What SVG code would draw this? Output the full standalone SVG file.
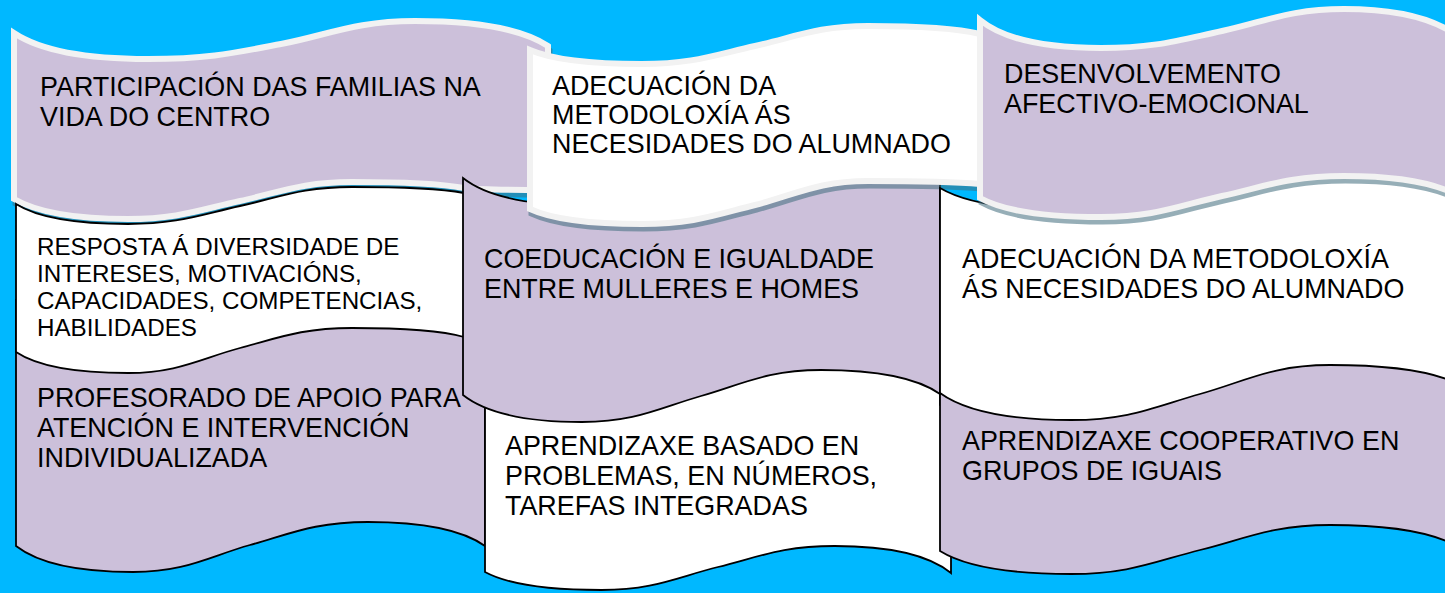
<svg xmlns="http://www.w3.org/2000/svg" xmlns:xlink="http://www.w3.org/1999/xlink" width="1445" height="593" viewBox="0 0 1445 593">
<style>
.bg{fill:#00B8FF}
.tp{fill:#CCC0DA;stroke:#F2F2F2;stroke-width:6}
.tw{fill:#FFFFFF;stroke:#F2F2F2;stroke-width:6}
.sh{fill:#416D7E;stroke:#416D7E;stroke-width:6}
.bp{fill:#CCC0DA;stroke:#000;stroke-width:1.8}
.bw{fill:#FFFFFF;stroke:#000;stroke-width:1.8}
text{font-family:"Liberation Sans",Arial,sans-serif;font-size:26.9px;fill:#000}
.sm{font-size:24.2px}
</style>
<defs>
<path id="pA" d="M14,33 C41,51 88,59 148,59 C208,59 234,53 281,44 C328,35 355,21 415,21 C475,21 521,28 548,46 L548,190 C520,190 480,190 464,188 C442,184 402,182 352,182 C302,182 279,192.5 240,201 C201,209.5 178,219 128,219 C78,219 38,213 14,199 Z"/>
<path id="pB" d="M530,50 C552.5,59.8 591.4,64 642,64 C692.6,64 715.6,54.7 755,46 C794.4,37.3 817.4,26 868,26 C918.6,26 957.5,28.4 980,34 L980,184 C957.5,181.9 918.6,181 868,181 C817.4,181 794.4,195.1 755,205 C715.6,214.9 692.6,224 642,224 C591.4,224 552.5,219.5 530,209 Z"/>
<path id="pC" d="M980,20 C1004,39.6 1046.4,48 1101,48 C1155.6,48 1179.6,40 1222,31 C1264.4,22 1289.4,9 1344,9 C1398.6,9 1441,20 1465,42 L1465,200 C1441,183.2 1398.6,176 1344,176 C1289.4,176 1264.4,186.6 1222,196 C1179.6,205.4 1155.6,217 1101,217 C1046.4,217 1004,211.3 980,198 Z"/>
</defs>
<rect class="bg" x="0" y="0" width="1445" height="593"/>

<g id="node-G">
<path class="bp" d="M16,300 L485,300 L485,546 C461.5,529.2 420.8,522 368,522 C315.2,522 291,533.5 250,545 C209,556.5 185.8,572 133,572 C80.2,572 39.5,564.2 16,546 Z"/>
<text x="37" y="407">PROFESORADO DE APOIO PARA</text>
<text x="37" y="437">ATENCIÓN E INTERVENCIÓN</text>
<text x="37" y="467">INDIVIDUALIZADA</text>
</g>

<g id="node-A">
<g opacity="0.55"><use xlink:href="#pA" href="#pA" class="sh" transform="translate(1.5,4.5)"/></g>
<use xlink:href="#pA" href="#pA" class="tp"/>
<text x="40" y="96">PARTICIPACIÓN DAS FAMILIAS NA</text>
<text x="40" y="126">VIDA DO CENTRO</text>
</g>

<g id="node-D">
<path class="bw" d="M16,204 C38,218 78,224 128,224 C178,224 201,214.5 240,206 C279,197.5 302,187 352,187 C402,187 442,189 464,193 L464,337 C442,330.7 402,328 352,328 C302,328 279,337.6 240,348 C201,358.4 178,373 128,373 C78,373 38,366.7 16,352 Z"/>
<text class="sm" x="37" y="255">RESPOSTA Á DIVERSIDADE DE</text>
<text class="sm" x="37" y="282">INTERESES, MOTIVACIÓNS,</text>
<text class="sm" x="37" y="309">CAPACIDADES, COMPETENCIAS,</text>
<text class="sm" x="37" y="336">HABILIDADES</text>
</g>

<g id="node-H">
<path class="bw" d="M485,350 L951,350 L951,573 C927.7,554.1 886.9,546 834.5,546 C782.1,546 758.8,556.9 718,567 C677.2,577.1 653.9,590 601.5,590 C549.1,590 508.3,584.6 485,572 Z"/>
<text x="505" y="455">APRENDIZAXE BASADO EN</text>
<text x="505" y="485">PROBLEMAS, EN NÚMEROS,</text>
<text x="505" y="515">TAREFAS INTEGRADAS</text>
</g>

<g id="node-E">
<path class="bp" d="M463,178 C486.9,196.9 528.3,205 582,205 C635.7,205 659.3,198 701,190 C742.7,182 767.3,170 821,170 C874.7,170 916.2,174.2 940,184 L940,394 C916.2,377.2 874.7,370 821,370 C767.3,370 742.7,384 701,396 C659.3,408 635.7,422 582,422 C528.3,422 486.9,413.9 463,395 Z"/>
<text x="484" y="268">COEDUCACIÓN E IGUALDADE</text>
<text x="484" y="298">ENTRE MULLERES E HOMES</text>
</g>

<g id="node-B">
<g opacity="0.55"><use xlink:href="#pB" href="#pB" class="sh" transform="translate(1.5,4.5)"/></g>
<use xlink:href="#pB" href="#pB" class="tw"/>
<text x="552" y="95">ADECUACIÓN DA</text>
<text x="552" y="124">METODOLOXÍA ÁS</text>
<text x="552" y="153">NECESIDADES DO ALUMNADO</text>
</g>

<g id="node-F">
<path class="bw" d="M940,188 C966,203.4 1011.5,210 1070,210 C1128.5,210 1154.5,201.5 1200,193 C1245.5,184.5 1271.5,173 1330,173 C1388.5,173 1434,178.1 1460,190 L1460,397 C1434,383 1388.4,377 1330,377 C1271.6,377 1245.5,393.3 1200,406 C1155,418.7 1129.4,432 1071,432 C1012.6,432 966,423.9 940,405 Z"/>
<text x="962" y="268">ADECUACIÓN DA METODOLOXÍA</text>
<text x="962" y="298">ÁS NECESIDADES DO ALUMNADO</text>
</g>

<g id="node-I">
<path class="bp" d="M940,393 C966,411.9 1012.6,420 1071,420 C1129.4,420 1155,406.7 1200,394 C1245.5,381.3 1271.6,365 1330,365 C1388.4,365 1434,371 1460,385 L1460,548 C1434,531.9 1388.4,525 1330,525 C1271.6,525 1245.5,538.7 1200,550 C1155,561.3 1129.4,574 1071,574 C1012.6,574 966,567.1 940,551 Z"/>
<text x="962" y="450">APRENDIZAXE COOPERATIVO EN</text>
<text x="962" y="480">GRUPOS DE IGUAIS</text>
</g>

<g id="node-C">
<g opacity="0.55"><use xlink:href="#pC" href="#pC" class="sh" transform="translate(1.5,4.5)"/></g>
<use xlink:href="#pC" href="#pC" class="tp"/>
<text x="1004" y="83">DESENVOLVEMENTO</text>
<text x="1004" y="113">AFECTIVO-EMOCIONAL</text>
</g>

<g id="connectors"></g>
</svg>
